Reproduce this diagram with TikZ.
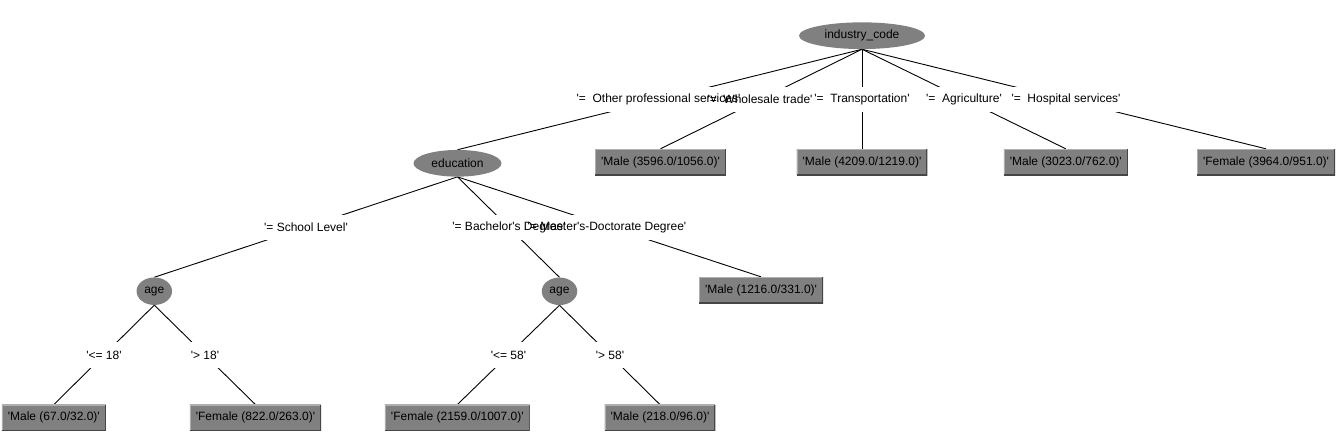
\documentclass[tikz,border=0pt]{standalone}
\usepackage{fontspec}
\setmainfont{Liberation Sans}
\usetikzlibrary{shapes.geometric}
\pgfdeclarelayer{bgl}
\pgfdeclarelayer{edgel}
\pgfdeclarelayer{bandl}
\pgfsetlayers{bgl,edgel,bandl,main}
\newcommand{\sq}{\textquotesingle}
\definecolor{wgray}{RGB}{128,128,128}
\definecolor{wlight}{RGB}{175,175,175}
\definecolor{wdark}{RGB}{70,70,70}
\begin{document}
\begin{tikzpicture}[x=1pt,y=-1pt,
  font=\fontsize{12}{14}\selectfont,
  split/.style={ellipse, fill=wgray, inner sep=0pt},
  leaf/.style={rectangle, fill=wgray, inner xsep=6pt, inner ysep=0pt, minimum height=26pt,
    path picture={
      \draw[wlight,line width=2pt] (path picture bounding box.south west) -- (path picture bounding box.north west) -- (path picture bounding box.north east);
      \draw[wdark,line width=2pt] (path picture bounding box.north east) -- (path picture bounding box.south east) -- (path picture bounding box.south west);
    }},
  lab/.style={inner xsep=1pt, inner ysep=0pt, minimum height=25pt},
  conn/.style={draw=black, line width=0.9pt},
  band/.style={fill=white}]
\useasboundingbox (0,0) rectangle (1341,436);
\begin{pgfonlayer}{bgl}
  \fill[white] (0,0) rectangle (1341,436);
\end{pgfonlayer}

% split nodes
\node[split, minimum width=126pt, minimum height=26.7pt] (root) at (862,35.7) {industry\_code};
\node[split, minimum width=88pt, minimum height=26.7pt] (edu) at (457.5,163.3) {education};
\node[split, minimum width=35.5pt, minimum height=27.5pt] (age1) at (154.3,291.2) {age};
\node[split, minimum width=35.5pt, minimum height=27.5pt] (age2) at (559.5,291.3) {age};

% leaves
\node[leaf] (m3596) at (660.5,162) {\sq Male (3596.0/1056.0)\sq};
\node[leaf] (m4209) at (862,162) {\sq Male (4209.0/1219.0)\sq};
\node[leaf] (m3023) at (1065.8,162) {\sq Male (3023.0/762.0)\sq};
\node[leaf] (f3964) at (1266,162) {\sq Female (3964.0/951.0)\sq};
\node[leaf] (m1216) at (761,290) {\sq Male (1216.0/331.0)\sq};
\node[leaf] (m67) at (53.8,417.8) {\sq Male (67.0/32.0)\sq};
\node[leaf] (f822) at (255.5,417.8) {\sq Female (822.0/263.0)\sq};
\node[leaf] (f2159) at (457.3,417.8) {\sq Female (2159.0/1007.0)\sq};
\node[leaf] (m218) at (660,417.8) {\sq Male (218.0/96.0)\sq};

% edge labels
\node[lab] (l1) at (658.5,99.5) {\sq=\ \ Other professional services\sq};
\node[lab] (l2) at (760,99.5) {\sq=\ \ Wholesale trade\sq};
\node[lab] (l3) at (862,99.5) {\sq=\ \ Transportation\sq};
\node[lab] (l4) at (964,99.5) {\sq=\ \ Agriculture\sq};
\node[lab] (l5) at (1066,99.5) {\sq=\ \ Hospital services\sq};
\node[lab] (l6) at (306,227.5) {\sq= School Level\sq};
\node[lab] (l7) at (509,227.5) {\sq= Bachelor\sq s Degree\sq};
\node[lab] (l8) at (607,227.5) {\sq= Master\sq s-Doctorate Degree\sq};
\node[lab] (l9) at (104,355) {\sq<= 18\sq};
\node[lab] (l10) at (205,355) {\sq> 18\sq};
\node[lab] (l11) at (508.5,355) {\sq<= 58\sq};
\node[lab] (l12) at (610,355) {\sq> 58\sq};

\begin{pgfonlayer}{bandl}
  \foreach \n in {l1,l2,l3,l4,l5,l6,l7,l8,l9,l10,l11,l12}
    \fill[band] (\n.north west) rectangle (\n.south east);
\end{pgfonlayer}

\begin{pgfonlayer}{edgel}
  \draw[conn] (root.south) -- (edu.north);
  \draw[conn] (root.south) -- (m3596.north);
  \draw[conn] (root.south) -- (m4209.north);
  \draw[conn] (root.south) -- (m3023.north);
  \draw[conn] (root.south) -- (f3964.north);
  \draw[conn] (edu.south) -- (age1.north);
  \draw[conn] (edu.south) -- (age2.north);
  \draw[conn] (edu.south) -- (m1216.north);
  \draw[conn] (age1.south) -- (m67.north);
  \draw[conn] (age1.south) -- (f822.north);
  \draw[conn] (age2.south) -- (f2159.north);
  \draw[conn] (age2.south) -- (m218.north);
\end{pgfonlayer}
\end{tikzpicture}
\end{document}
